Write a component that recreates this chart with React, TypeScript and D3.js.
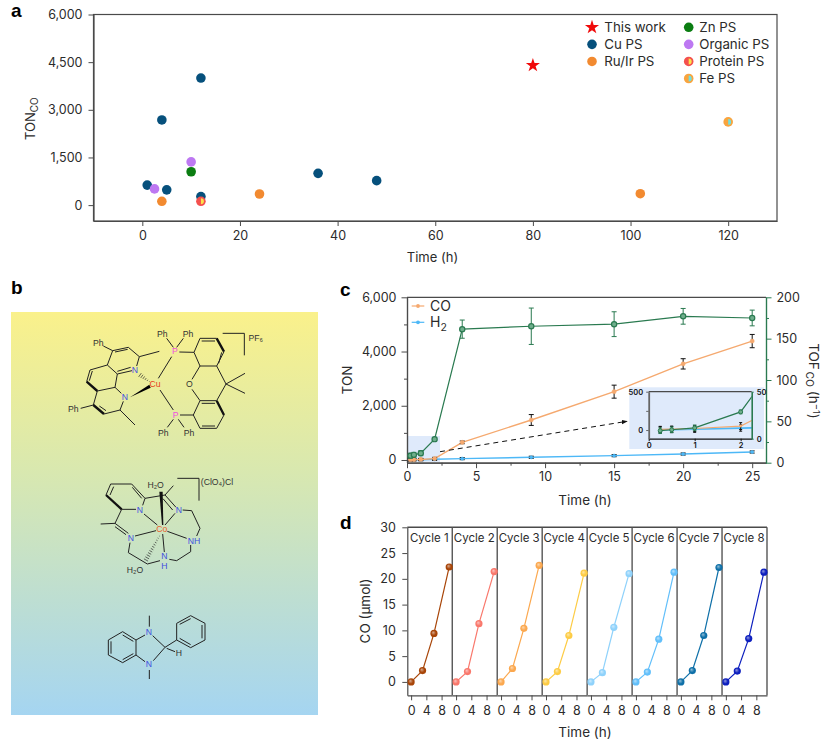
import { useEffect, useRef } from 'react'
import * as d3 from 'd3'

// panel a: published systems
const cuPS = [[1, 630], [4, 2680], [5, 480], [12, 4000], [12, 270], [36, 1000], [48, 770]]
const organicPS = [[2.5, 510], [10, 1360]]
const znPS = [[10, 1050]]
const ruIrPS = [[4, 120], [24, 350], [102, 360]]
const proteinPS = [[12, 120]]
const fePS = [[120, 2620]]
const thisWork = [[80, 4400]]
const legendLeft = ['This work', 'Cu PS', 'Ru/Ir PS']
const legendRight = ['Zn PS', 'Organic PS', 'Protein PS', 'Fe PS']

// panel c: time course
const hours = [0.25, 0.5, 1, 2, 4, 9, 15, 20, 25]
const tonCO = [8, 12, 20, 52, 650, 1475, 2520, 3545, 4385]
const tonCOErr = [40, 40, 40, 45, 50, 200, 240, 190, 245]
const tonH2 = [4, 6, 10, 25, 50, 100, 160, 220, 295]
const tonH2Err = [40, 40, 40, 40, 40, 40, 40, 40, 40]
const tofCO = [8.5, 9.5, 11.5, 28.5, 161.5, 165, 167.5, 177, 175]
const tofCOErr = [3, 3, 3, 2, 11, 22, 15, 9.5, 9.5]

// panel d: recycling
const cycleHours = [0, 3, 6, 10]
const cycleNames = ['Cycle 1', 'Cycle 2', 'Cycle 3', 'Cycle 4', 'Cycle 5', 'Cycle 6', 'Cycle 7', 'Cycle 8']
const cycleCO = [
	[0, 2.2, 9.4, 22.3],
	[0, 2, 11.3, 21.4],
	[0, 2.6, 10.4, 22.6],
	[0, 2, 9, 21.1],
	[0, 1.8, 10.6, 21],
	[0, 1.9, 8.3, 21.3],
	[0, 2.2, 9, 22.2],
	[0, 2.1, 8.4, 21.3],
]
const cycleColors = ['#a84508', '#f9786c', '#fba84f', '#fdcc45', '#8fd2fb', '#62bffa', '#0f70a8', '#0d1fbe']

const FONT = 'Inter, sans-serif'
const INK = '#2b2b2b'
const SPINE = '#4a4a4a'
const GREEN = '#2a7a50'
const ORANGE = '#f5a96f'
const BLUE = '#4db8f7'

// skeletal formulas, traced in a 3x local grid
const cuComplex = {
	thin: 'M130 108L158 122L205 112L238 140L230 168M216 182L172 192L142 165L158 122M165 126L203 118M172 184L212 172M142 165L90 180L80 215M97 183L88 212M112 243L165 232L172 192M165 232L184 250M190 274L180 300L132 312M112 243L100 285L62 295M118 288L138 302M180 300L225 345M238 140L298 124M335 140L295 205M340 300L300 240M340 112L320 85M350 112L370 85M340 328L322 352M355 328L372 352M358 126L402 127L420 85L470 85M425 93L465 93M492 125L470 168L420 168L402 127M476 160L485 127M420 168L396 208M470 168L498 222L470 272L420 272L396 238M498 222L555 190M498 222L555 250M420 272L400 315L420 355L470 355L492 315M426 348L465 348M360 315L400 315M425 280L465 280M488 70L553 70L553 136',
	bold: 'M80 215L112 243M100 285L132 312M470 85L492 125M470 272L492 315',
}
const coComplex = {
	thin: 'M122 42L185 42L225 85L218 106M198 118L155 118M122 42L108 75M131 50L120 75M187 52L215 85M225 85L285 75L310 47M285 75L318 112M279 86L308 120M338 120L365 122L390 175L380 198M362 225L362 245L320 272L298 268M270 272L232 282L175 248L180 218M175 190L135 160L155 118M168 194L135 170M135 160L92 162M222 132L262 165M315 130L285 165M195 198L258 182M350 205L292 184M283 246L278 192M322 25L387 25L387 92',
	bold: 'M108 75L155 118',
}
const benzimidazoline = {
	thin: 'M158 485L198 510L198 555L158 578L115 555L115 510L158 485M158 495L190 514M190 551L158 569M123 514L123 551M198 510L225 495M198 555L225 575M238 470L238 437M238 600L238 627M248 497L285 532L250 572M285 532L320 510L320 460L362 437L405 460L405 510L362 533L320 510M329 463L362 446M396 465L396 505M362 524L329 505M290 535L315 545',
	bold: '',
}

const App = () => {
	const svgRef = useRef(null)

	useEffect(() => {
		const svg = d3.select(svgRef.current)
		svg.selectAll('*').remove()
		const defs = svg.append('defs')

		const styleAxis = (g, color = SPINE, textColor = INK, size = 12.5) => {
			g.selectAll('.domain').attr('stroke', color).attr('stroke-width', 1.2)
			g.selectAll('.tick line').attr('stroke', color).attr('stroke-width', 1)
			g.selectAll('.tick text').attr('fill', textColor).attr('font-family', FONT).attr('font-size', size)
			return g
		}
		const addText = (x, y, str, size = 13, anchor = 'start', color = INK) =>
			svg
				.append('text')
				.attr('x', x)
				.attr('y', y)
				.attr('font-family', FONT)
				.attr('font-size', size)
				.attr('text-anchor', anchor)
				.attr('fill', color)
				.text(str)
		const panelLetter = (x, y, str) =>
			svg
				.append('text')
				.attr('x', x)
				.attr('y', y)
				.attr('font-family', 'Liberation Sans, sans-serif')
				.attr('font-weight', 700)
				.attr('font-size', 19)
				.attr('fill', '#000')
				.text(str)

		panelLetter(11, 17, 'a')
		panelLetter(11, 294, 'b')
		panelLetter(340, 296, 'c')
		panelLetter(340, 529, 'd')

		// ---- panel a ----
		const ax = d3.scaleLinear().domain([-10, 130]).range([93.5, 777])
		const ay = d3.scaleLinear().domain([-500, 6000]).range([221, 14.5])
		svg
			.append('rect')
			.attr('x', 93.5)
			.attr('y', 14.5)
			.attr('width', 683.5)
			.attr('height', 206.5)
			.attr('fill', 'none')
			.attr('stroke', SPINE)
			.attr('stroke-width', 1.2)
		svg
			.append('g')
			.attr('transform', 'translate(0,221)')
			.call(d3.axisBottom(ax).tickValues([0, 20, 40, 60, 80, 100, 120]).tickSize(5).tickPadding(5).tickSizeOuter(0))
			.call(styleAxis)
		svg
			.append('g')
			.attr('transform', 'translate(93.5,0)')
			.call(
				d3
					.axisLeft(ay)
					.tickValues([0, 1500, 3000, 4500, 6000])
					.tickSize(5)
					.tickPadding(6)
					.tickSizeOuter(0)
					.tickFormat(d3.format(','))
			)
			.call(styleAxis)

		const dots = (rows, color, r = 4.8) =>
			svg
				.append('g')
				.selectAll('circle')
				.data(rows)
				.join('circle')
				.attr('cx', (d) => ax(d[0]))
				.attr('cy', (d) => ay(d[1]))
				.attr('r', r)
				.attr('fill', color)
		const halfDot = (px, py, outer, inner, r = 4.8) => {
			svg.append('circle').attr('cx', px).attr('cy', py).attr('r', r).attr('fill', outer)
			svg
				.append('path')
				.attr('transform', `translate(${px},${py})`)
				.attr('d', d3.arc()({ innerRadius: 0, outerRadius: r * 0.62, startAngle: 0, endAngle: Math.PI }))
				.attr('fill', inner)
		}
		const star = (px, py) =>
			svg
				.append('path')
				.attr('transform', `translate(${px},${py})`)
				.attr('d', d3.symbol(d3.symbolStar, 62)())
				.attr('fill', '#f00a0a')

		dots(cuPS, '#06507c')
		dots(organicPS, '#bd78f2')
		dots(znPS, '#0b7d12')
		dots(ruIrPS, '#f28a30')
		proteinPS.forEach((d) => halfDot(ax(d[0]), ay(d[1]), '#f4504e', '#fbe34a'))
		fePS.forEach((d) => halfDot(ax(d[0]), ay(d[1]), '#f9a43e', '#6fe0e2'))
		thisWork.forEach((d) => star(ax(d[0]), ay(d[1])))

		const legendRowsY = d3.scalePoint().domain(d3.range(4)).range([27.3, 78.5])
		star(592, legendRowsY(0))
		svg.append('circle').attr('cx', 592).attr('cy', legendRowsY(1)).attr('r', 4.8).attr('fill', '#06507c')
		svg.append('circle').attr('cx', 592).attr('cy', legendRowsY(2)).attr('r', 4.8).attr('fill', '#f28a30')
		svg.append('circle').attr('cx', 688.7).attr('cy', legendRowsY(0)).attr('r', 4.8).attr('fill', '#0b7d12')
		svg.append('circle').attr('cx', 688.7).attr('cy', legendRowsY(1)).attr('r', 4.8).attr('fill', '#bd78f2')
		halfDot(688.7, legendRowsY(2), '#f4504e', '#fbe34a')
		halfDot(688.7, legendRowsY(3), '#f9a43e', '#6fe0e2')
		legendLeft.forEach((t, i) => addText(604.3, legendRowsY(i) + 4.6, t, 13.3))
		legendRight.forEach((t, i) => addText(699.3, legendRowsY(i) + 4.6, t, 13.3))

		addText(432.5, 262, 'Time (h)', 13, 'middle')
		const tonTitle = svg
			.append('text')
			.attr('transform', 'translate(35,140) rotate(-90)')
			.attr('font-family', FONT)
			.attr('font-size', 13)
			.attr('fill', INK)
			.text('TON')
		tonTitle.append('tspan').attr('dy', 3).attr('font-size', 10).text('CO')

		// ---- panel b ----
		const bg = defs.append('linearGradient').attr('id', 'bgGrad').attr('x1', 0).attr('x2', 0).attr('y1', 0).attr('y2', 1)
		bg.append('stop').attr('offset', 0).attr('stop-color', '#faf18b')
		bg.append('stop').attr('offset', 0.4).attr('stop-color', '#d8e8b0')
		bg.append('stop').attr('offset', 1).attr('stop-color', '#a5d5f1')
		svg.append('rect').attr('x', 11).attr('y', 312).attr('width', 307).attr('height', 403).attr('fill', 'url(#bgGrad)')

		const drawMolecule = (tx, ty, mol, atoms, extra?) => {
			const g = svg.append('g').attr('transform', `translate(${tx},${ty}) scale(${1 / 3})`)
			g.append('path').attr('d', mol.thin).attr('fill', 'none').attr('stroke', '#222').attr('stroke-width', 3)
			g.append('path').attr('d', mol.bold).attr('fill', 'none').attr('stroke', '#111').attr('stroke-width', 7)
			if (extra) extra(g)
			atoms.forEach(([x, y, label, color]) => {
				g.append('text')
					.attr('x', x)
					.attr('y', y)
					.attr('text-anchor', 'middle')
					.attr('font-family', 'Liberation Sans, sans-serif')
					.attr('font-size', 26)
					.attr('fill', color)
					.text(label)
			})
		}
		const hashed = (g, x1, y1, x2, y2, n) => {
			d3.range(n).forEach((i) => {
				const k = i / (n - 1)
				const w = 1 + k * 6
				const mx = x1 + (x2 - x1) * k
				const my = y1 + (y2 - y1) * k
				const len = Math.hypot(x2 - x1, y2 - y1)
				const nx = (-(y2 - y1) / len) * w
				const ny = ((x2 - x1) / len) * w
				g.append('line')
					.attr('x1', mx - nx)
					.attr('y1', my - ny)
					.attr('x2', mx + nx)
					.attr('y2', my + ny)
					.attr('stroke', '#222')
					.attr('stroke-width', 2)
			})
		}
		const N = '#3f4fe0'
		const DARK = '#333'
		drawMolecule(
			60,
			310,
			cuComplex,
			[
				[115, 107, 'Ph', DARK],
				[307, 81, 'Ph', DARK],
				[384, 81, 'Ph', DARK],
				[40, 307, 'Ph', DARK],
				[310, 377, 'Ph', DARK],
				[387, 377, 'Ph', DARK],
				[225, 189, 'N', N],
				[195, 271, 'N', N],
				[285, 231, 'Cu', '#e8401c'],
				[345, 133, 'P', '#f04ee0'],
				[347, 324, 'P', '#f04ee0'],
				[388, 231, 'O', DARK],
				[587, 93, 'PF₆', DARK],
			],
			(g) => {
				hashed(g, 268, 215, 240, 195, 6)
				g.append('path').attr('d', 'M268 224L272 233L210 262Z').attr('fill', '#000')
			}
		)
		drawMolecule(
			70,
			470,
			coComplex,
			[
				[257, 54, 'H₂O', DARK],
				[195, 309, 'H₂O', DARK],
				[210, 129, 'N', N],
				[327, 129, 'N', N],
				[183, 212, 'N', N],
				[372, 221, 'NH', N],
				[283, 266, 'N', N],
				[283, 297, 'H', N],
				[275, 187, 'Co', '#e8602c'],
				[441, 46, '(ClO₄)Cl', DARK],
			],
			(g) => {
				hashed(g, 268, 198, 228, 270, 12)
				g.append('path').attr('d', 'M268 65L278 65L280 165L276 165Z').attr('fill', '#111')
			}
		)
		drawMolecule(70, 470, benzimidazoline, [
			[237, 495, 'N', N],
			[237, 590, 'N', N],
			[327, 557, 'H', DARK],
		])

		// ---- panel c ----
		const cx = d3.scaleLinear().domain([0, 26]).range([407, 766])
		const cyL = d3.scaleLinear().domain([-100, 6000]).range([462.7, 297.3])
		const cyR = d3.scaleLinear().domain([0, 200]).range([462.7, 297.3])

		svg.append('rect').attr('x', 407).attr('y', 436).attr('width', 33).attr('height', 26).attr('fill', '#dfeafb')
		svg
			.append('line')
			.attr('x1', 407)
			.attr('x2', 766)
			.attr('y1', 297.3)
			.attr('y2', 297.3)
			.attr('stroke', SPINE)
			.attr('stroke-width', 1.2)

		const minorBottom = [2.5, 7.5, 12.5, 17.5, 22.5]
		svg
			.append('g')
			.attr('transform', 'translate(0,462.7)')
			.call(d3.axisBottom(cx).tickValues(minorBottom).tickSize(3).tickSizeOuter(0).tickFormat(() => ''))
			.call(styleAxis)
		svg
			.append('g')
			.attr('transform', 'translate(0,462.7)')
			.call(d3.axisBottom(cx).tickValues([0, 5, 10, 15, 20, 25]).tickSize(5.5).tickPadding(4).tickSizeOuter(0))
			.call(styleAxis)
		svg
			.append('g')
			.attr('transform', 'translate(407,0)')
			.call(d3.axisLeft(cyL).tickValues([1000, 3000, 5000]).tickSize(3).tickSizeOuter(0).tickFormat(() => ''))
			.call(styleAxis)
		svg
			.append('g')
			.attr('transform', 'translate(407,0)')
			.call(d3.axisLeft(cyL).tickValues([0, 2000, 4000, 6000]).tickSize(5.5).tickPadding(5).tickSizeOuter(0).tickFormat(d3.format(',')))
			.call(styleAxis)
		svg
			.append('g')
			.attr('transform', 'translate(766,0)')
			.call(d3.axisRight(cyR).tickValues([25, 75, 125, 175]).tickSize(3).tickSizeOuter(0).tickFormat(() => ''))
			.call((g) => styleAxis(g, GREEN))
		svg
			.append('g')
			.attr('transform', 'translate(766,0)')
			.call(d3.axisRight(cyR).tickValues([0, 50, 100, 150, 200]).tickSize(5.5).tickPadding(5).tickSizeOuter(0))
			.call((g) => styleAxis(g, GREEN))

		// one series with its line, error bars and points
		const drawSeries = (root, xs, ys, vals, errs, opts) => {
			const { color, errColor, r, fill, cap, strokeW, sw = 1.2 } = opts
			root
				.append('path')
				.datum(vals)
				.attr('fill', 'none')
				.attr('stroke', color)
				.attr('stroke-width', sw)
				.attr(
					'd',
					d3
						.line()
						.x((_, i) => xs(hours[i]))
						.y((d) => ys(d))
				)
			const err = root.append('g').attr('stroke', errColor).attr('stroke-width', 1)
			vals.forEach((v, i) => {
				const px = xs(hours[i])
				const top = ys(v + errs[i])
				const bot = ys(v - errs[i])
				err.append('line').attr('x1', px).attr('x2', px).attr('y1', top).attr('y2', bot)
				err.append('line').attr('x1', px - cap).attr('x2', px + cap).attr('y1', top).attr('y2', top)
				err.append('line').attr('x1', px - cap).attr('x2', px + cap).attr('y1', bot).attr('y2', bot)
			})
			root
				.append('g')
				.selectAll('circle')
				.data(vals)
				.join('circle')
				.attr('cx', (_, i) => xs(hours[i]))
				.attr('cy', (d) => ys(d))
				.attr('r', r)
				.attr('fill', fill)
				.attr('stroke', color)
				.attr('stroke-width', strokeW)
		}

		const main = svg.append('g')
		drawSeries(main, cx, cyL, tonH2, tonH2Err, { color: BLUE, errColor: '#111', r: 1.6, fill: BLUE, cap: 2.5, strokeW: 0.5, sw: 1.4 })
		drawSeries(main, cx, cyL, tonCO, tonCOErr, { color: ORANGE, errColor: '#111', r: 2.1, fill: ORANGE, cap: 2.5, strokeW: 0.5, sw: 1.4 })
		drawSeries(main, cx, cyR, tofCO, tofCOErr, { color: GREEN, errColor: GREEN, r: 2.6, fill: '#6fae8c', cap: 2.5, strokeW: 1.2 })

		// dashed pointer to the inset
		defs
			.append('marker')
			.attr('id', 'arrowHead')
			.attr('viewBox', '0 0 8 6')
			.attr('refX', 7)
			.attr('refY', 3)
			.attr('markerWidth', 6)
			.attr('markerHeight', 5)
			.attr('orient', 'auto')
			.append('path')
			.attr('d', 'M0 0L8 3L0 6Z')
			.attr('fill', '#111')
		svg
			.append('line')
			.attr('x1', 440)
			.attr('y1', 451.7)
			.attr('x2', 627)
			.attr('y2', 421.3)
			.attr('stroke', '#111')
			.attr('stroke-width', 1)
			.attr('stroke-dasharray', '5 4')
			.attr('marker-end', 'url(#arrowHead)')

		// inset
		svg.append('rect').attr('x', 629.3).attr('y', 387.3).attr('width', 134.7).attr('height', 61.7).attr('fill', '#dfeafb')
		const ix = d3.scaleLinear().domain([0, 2.24]).range([648.7, 751.7])
		const iyL = d3.scaleLinear().domain([-113, 500]).range([438.7, 391.7])
		const iyR = d3.scaleLinear().domain([0, 50]).range([438.7, 391.7])
		defs
			.append('clipPath')
			.attr('id', 'insetClip')
			.append('rect')
			.attr('x', 648.7)
			.attr('y', 391.7)
			.attr('width', 103)
			.attr('height', 47)
		const inset = svg.append('g').attr('clip-path', 'url(#insetClip)')
		drawSeries(inset, ix, iyL, tonH2, tonH2Err, { color: BLUE, errColor: '#111', r: 1.2, fill: BLUE, cap: 1.5, strokeW: 0.4, sw: 1.6 })
		drawSeries(inset, ix, iyL, tonCO, tonCOErr, { color: ORANGE, errColor: '#111', r: 1.2, fill: ORANGE, cap: 1.5, strokeW: 0.4 })
		drawSeries(inset, ix, iyR, tofCO, tofCOErr, { color: GREEN, errColor: GREEN, r: 2, fill: '#6fae8c', cap: 1.8, strokeW: 1 })
		svg
			.append('line')
			.attr('x1', 648.7)
			.attr('x2', 751.7)
			.attr('y1', 391.7)
			.attr('y2', 391.7)
			.attr('stroke', SPINE)
			.attr('stroke-width', 1.2)
		svg
			.append('g')
			.attr('transform', 'translate(0,438.7)')
			.call(d3.axisBottom(ix).tickValues([0, 1, 2]).tickSize(2.5).tickPadding(1.5).tickSizeOuter(0).tickFormat(d3.format('d')))
			.call((g) => styleAxis(g, '#111', '#111', 7.5))
			.call((g) => g.selectAll('.tick text').attr('font-weight', 600))
		svg
			.append('g')
			.attr('transform', 'translate(648.7,0)')
			.call(d3.axisLeft(iyL).tickValues([0, 250, 500]).tickSize(2.5).tickSizeOuter(0).tickFormat((d) => (d === 250 ? '' : d)))
			.call((g) => styleAxis(g, '#666', '#111', 7.5))
			.call((g) => g.selectAll('.domain').attr('stroke-width', 1.8))
			.call((g) => g.selectAll('.tick text').attr('font-weight', 600))
		svg
			.append('g')
			.attr('transform', 'translate(751.7,0)')
			.call(d3.axisRight(iyR).tickValues([0, 50]).tickSize(2).tickSizeOuter(0))
			.call((g) => styleAxis(g, GREEN, '#111', 7.5))
			.call((g) => g.selectAll('.domain').attr('stroke-width', 1.6))
			.call((g) => g.selectAll('.tick text').attr('font-weight', 600))

		// panel c legend
		const legendC = [
			['CO', ORANGE, 306],
			['H', BLUE, 322.3],
		]
		legendC.forEach(([label, color, ly]) => {
			svg.append('line').attr('x1', 411.7).attr('x2', 424.3).attr('y1', ly).attr('y2', ly).attr('stroke', color).attr('stroke-width', 1.2)
			svg.append('circle').attr('cx', 418).attr('cy', ly).attr('r', 1.9).attr('fill', color)
			const t = addText(430, ly + 5, label, 14)
			if (label === 'H') t.append('tspan').attr('dy', 3.5).attr('font-size', 10.5).text('2')
		})

		addText(585, 505, 'Time (h)', 13.5, 'middle')
		svg
			.append('text')
			.attr('transform', 'translate(351.5,380) rotate(-90)')
			.attr('text-anchor', 'middle')
			.attr('font-family', FONT)
			.attr('font-size', 13.5)
			.attr('fill', INK)
			.text('TON')
		const tofTitle = svg
			.append('text')
			.attr('transform', 'translate(809,381) rotate(90)')
			.attr('text-anchor', 'middle')
			.attr('font-family', FONT)
			.attr('font-size', 13.5)
			.attr('fill', INK)
			.text('TOF')
		tofTitle.append('tspan').attr('dx', 2).attr('dy', 3).attr('font-size', 10).text('CO')
		tofTitle.append('tspan').attr('dx', 4).attr('dy', -3).text('(h')
		tofTitle.append('tspan').attr('dy', -4).attr('font-size', 9.5).text('−1')
		tofTitle.append('tspan').attr('dy', 4).text(')')

		// ---- panel d ----
		const dLeft = 407.3
		const dRight = 767
		const dTop = 527.3
		const dBottom = 695.3
		const dy = d3.scaleLinear().domain([-2.6, 30]).range([dBottom, dTop])
		const band = d3.scaleBand().domain(cycleNames).range([dLeft, dRight])

		svg
			.append('g')
			.attr('transform', `translate(${dLeft},0)`)
			.call(d3.axisLeft(dy).tickValues([0, 5, 10, 15, 20, 25, 30]).tickSize(5).tickPadding(6.5).tickSizeOuter(0))
			.call((g) => styleAxis(g, SPINE, INK, 12.5))
		svg.append('line').attr('x1', dLeft).attr('x2', dRight).attr('y1', dTop).attr('y2', dTop).attr('stroke', SPINE).attr('stroke-width', 1.4)

		cycleNames.forEach((name, i) => {
			const left = band(name)
			const right = left + band.bandwidth()
			const color = cycleColors[i]
			const xs = d3.scaleLinear().domain([-1, 10.8]).range([left, right])
			const gradId = `ball${i}`
			const grad = defs.append('radialGradient').attr('id', gradId).attr('fx', 0.38).attr('fy', 0.35).attr('r', 0.6)
			grad.append('stop').attr('offset', 0).attr('stop-color', d3.interpolateRgb(color, '#fff')(0.55))
			grad.append('stop').attr('offset', 0.55).attr('stop-color', color)

			svg.append('line').attr('x1', right).attr('x2', right).attr('y1', dTop).attr('y2', dBottom).attr('stroke', '#555').attr('stroke-width', 1.4)
			svg
				.append('g')
				.attr('transform', `translate(0,${dBottom})`)
				.call(d3.axisBottom(xs).tickValues([0, 4, 8]).tickSize(5).tickPadding(5.5).tickSizeOuter(0))
				.call((g) => styleAxis(g, SPINE, INK, 12.5))

			addText((left + right) / 2 - 0.5, dTop + 15, name, 11.5, 'middle')

			svg
				.append('path')
				.datum(cycleCO[i])
				.attr('fill', 'none')
				.attr('stroke', color)
				.attr('stroke-width', 1.2)
				.attr(
					'd',
					d3
						.line()
						.x((_, j) => xs(cycleHours[j]))
						.y((d) => dy(d))
				)
			svg
				.append('g')
				.selectAll('circle')
				.data(cycleCO[i])
				.join('circle')
				.attr('cx', (_, j) => xs(cycleHours[j]))
				.attr('cy', (d) => dy(d))
				.attr('r', 3.6)
				.attr('fill', `url(#${gradId})`)
		})

		svg
			.append('text')
			.attr('transform', 'translate(370,611) rotate(-90)')
			.attr('text-anchor', 'middle')
			.attr('font-family', FONT)
			.attr('font-size', 13.5)
			.attr('fill', INK)
			.text('CO (µmol)')
		addText(585, 737, 'Time (h)', 13.5, 'middle')
	}, [])

	return <svg ref={svgRef} width={830} height={742} style={{ position: 'absolute', left: 0, top: 0, display: 'block' }}></svg>
}

export default App
